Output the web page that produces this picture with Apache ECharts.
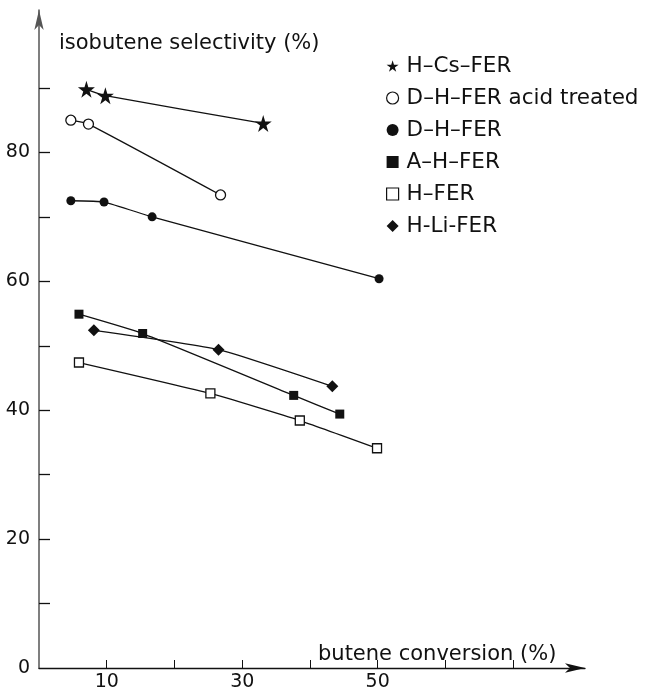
<!DOCTYPE html>
<html>
<head>
<meta charset="utf-8">
<script src="https://cdn.jsdelivr.net/npm/echarts@6/dist/echarts.min.js"></script>
<style>
html, body { margin: 0; background: #fff; }
#main { width: 648px; height: 692px; }
</style>
</head>
<body>
<div id="main"></div>
<script>
// 数据
var seriesNames = ['H–Cs–FER', 'D–H–FER acid treated', 'D–H–FER', 'A–H–FER', 'H–FER', 'H-Li-FER'];
var hCsFer = [[7.0, 89.8], [9.8, 88.8], [33.1, 84.5]];
var dhFerAcid = [[4.7, 85.0], [7.3, 84.4], [26.8, 73.4]];
var dhFer = [[4.7, 72.5], [9.6, 72.3], [16.7, 70.0], [50.2, 60.4]];
var ahFer = [[5.9, 54.9], [15.3, 51.9], [37.6, 42.3], [44.4, 39.4]];
var hFer = [[5.9, 47.4], [25.3, 42.6], [38.5, 38.4], [49.9, 34.1]];
var hLiFer = [[8.1, 52.4], [26.5, 49.4], [43.3, 43.7]];

var xTicks = [10, 20, 30, 40, 50, 60, 70];
var xLabels = [10, 30, 50];
var yTicks = [10, 20, 30, 40, 50, 60, 70, 80, 90];
var yLabels = [0, 20, 40, 60, 80];

var starPath = 'path://M50,0 L61,35 L98,35 L68,57 L79,91 L50,70 L21,91 L32,57 L2,35 L39,35 Z';
var font = 'DejaVu Sans, sans-serif';

var myChart = echarts.init(document.getElementById('main'));

function makeSeries(name, data, symbol, size, open) {
    return {
        name: name,
        type: 'line',
        data: data,
        smooth: 0.15,
        symbol: symbol,
        symbolSize: size,
        showSymbol: true,
        lineStyle: { color: '#111', width: 1.3 },
        itemStyle: {
            color: open ? '#fff' : '#111',
            borderColor: '#111',
            borderWidth: open ? 1.3 : 0
        },
        z: open ? 3 : 2
    };
}

var option = {
    backgroundColor: '#fff',
    animation: false,
    title: [
        {
            text: 'isobutene selectivity (%)',
            left: 54,
            top: 28,
            textStyle: { fontFamily: font, fontSize: 21, fontWeight: 'normal', color: '#111' }
        },
        {
            text: 'butene conversion (%)',
            left: 313,
            top: 639,
            textStyle: { fontFamily: font, fontSize: 21, fontWeight: 'normal', color: '#111' }
        }
    ],
    legend: {
        orient: 'vertical',
        left: 381,
        top: 50,
        itemWidth: 12,
        itemHeight: 12,
        itemGap: 10,
        textStyle: { fontFamily: font, fontSize: 21.5, color: '#111', lineHeight: 22, padding: [0, 0, 0, 3] },
        data: [
            { name: seriesNames[0], icon: starPath },
            { name: seriesNames[1], icon: 'circle', itemStyle: { color: '#fff', borderColor: '#111', borderWidth: 1.2 } },
            { name: seriesNames[2], icon: 'circle' },
            { name: seriesNames[3], icon: 'rect' },
            { name: seriesNames[4], icon: 'rect', itemStyle: { color: '#fff', borderColor: '#111', borderWidth: 1.2 } },
            { name: seriesNames[5], icon: 'diamond' }
        ]
    },
    grid: { left: 39, right: 63, top: 10, bottom: 24 },
    xAxis: {
        type: 'value',
        min: 0,
        max: 80.6,
        splitLine: { show: false },
        axisLine: {
            lineStyle: { color: '#111', width: 1.3 },
            symbol: ['none', 'arrow'],
            symbolSize: [7, 20]
        },
        axisTick: { inside: true, length: 8, customValues: xTicks, lineStyle: { color: '#111' } },
        axisLabel: { customValues: xLabels, fontFamily: font, fontSize: 19, color: '#111', margin: 5 }
    },
    yAxis: {
        type: 'value',
        min: 0,
        max: 102.1,
        splitLine: { show: false },
        axisLine: {
            show: true,
            lineStyle: { color: '#555', width: 1.5 },
            symbol: ['none', 'arrow'],
            symbolSize: [7, 20]
        },
        axisTick: { show: true, inside: true, length: 11, customValues: yTicks, lineStyle: { color: '#111', width: 1.3 } },
        axisLabel: { customValues: yLabels, fontFamily: font, fontSize: 19, color: '#111', margin: 9 }
    },
    series: [
        makeSeries(seriesNames[0], hCsFer, starPath, 17, false),
        makeSeries(seriesNames[1], dhFerAcid, 'circle', 10, true),
        makeSeries(seriesNames[2], dhFer, 'circle', 9, false),
        makeSeries(seriesNames[3], ahFer, 'rect', 9, false),
        makeSeries(seriesNames[4], hFer, 'rect', 9, true),
        makeSeries(seriesNames[5], hLiFer, 'diamond', 12, false)
    ]
};

myChart.setOption(option);
window.onresize = myChart.resize;
</script>
</body>
</html>
